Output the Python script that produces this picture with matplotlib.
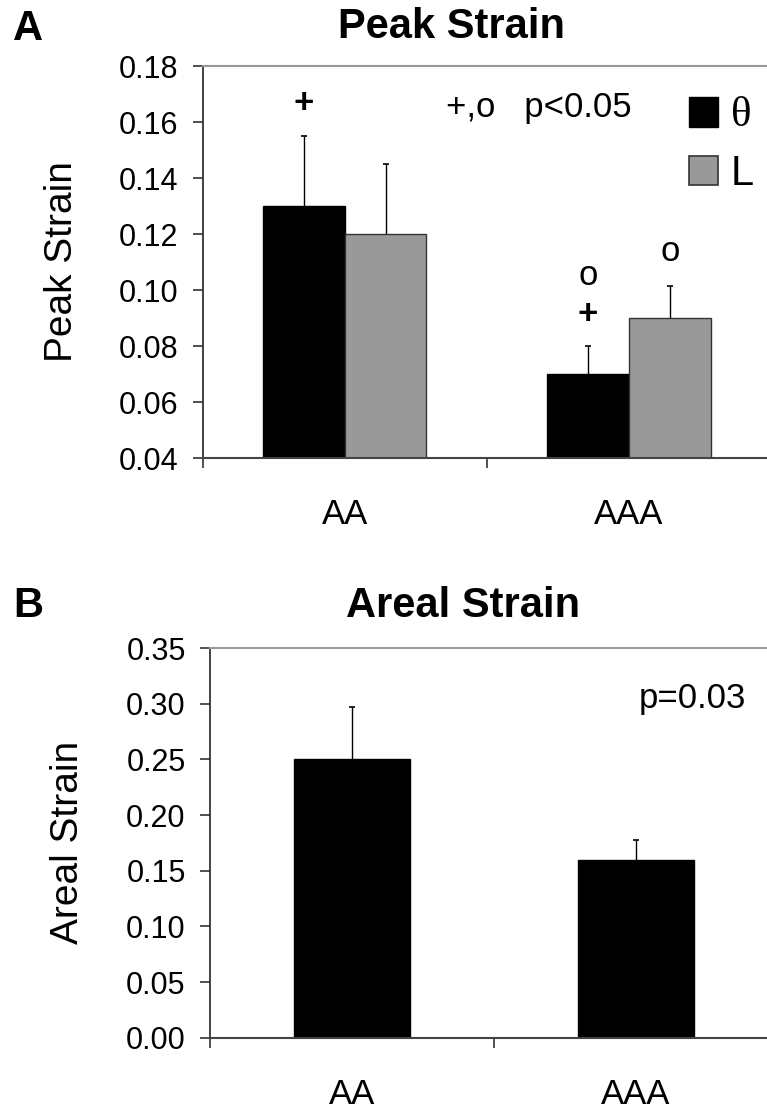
import matplotlib
matplotlib.use("Agg")
import matplotlib.pyplot as plt
from matplotlib.patches import Patch
import numpy as np

plt.rcParams['font.family'] = ['Liberation Sans', 'DejaVu Sans']

# ---- data ----
categories = ["AA", "AAA"]
peak_theta = [0.130, 0.070]
peak_theta_err_top = [0.155, 0.080]
peak_L = [0.120, 0.090]
peak_L_err_top = [0.145, 0.1015]
areal = [0.250, 0.160]
areal_err_top = [0.297, 0.1775]
peak_yticks = [0.04, 0.06, 0.08, 0.10, 0.12, 0.14, 0.16, 0.18]
areal_yticks = [0.00, 0.05, 0.10, 0.15, 0.20, 0.25, 0.30, 0.35]
series_labels = ["\u03b8", "L"]

W, H = 767, 1110
fig = plt.figure(figsize=(W / 100, H / 100), dpi=100)

def px_axes(left, top, right, bottom):
    return fig.add_axes([left / W, 1 - bottom / H, (right - left) / W, (bottom - top) / H])

def style(ax, yticks):
    ax.set_xlim(-0.5, 1.5)
    ax.set_ylim(yticks[0], yticks[-1])
    ax.set_yticks(yticks)
    ax.set_yticklabels([f"{t:.2f}" for t in yticks])
    ax.set_xticks([-0.5, 0.5])
    ax.set_xticklabels(["", ""])
    ax.set_xticks([0, 1], minor=True)
    ax.set_xticklabels(categories, minor=True)
    ax.tick_params(axis='x', which='major', direction='out', length=7.5, width=1.2, color='#333333')
    ax.tick_params(axis='x', which='minor', length=0, labelsize=25, pad=29)
    ax.tick_params(axis='y', direction='out', length=7, width=1.2, labelsize=22, pad=10.5, color='#333333')
    ax.spines['right'].set_visible(False)
    ax.spines['top'].set_color('#999999')
    ax.spines['top'].set_linewidth(1.5)
    ax.spines['left'].set_color('#222222')
    ax.spines['left'].set_linewidth(1.2)
    ax.spines['bottom'].set_color('#444444')
    ax.spines['bottom'].set_linewidth(1.5)

def upper_err(ax, xs, vals, tops):
    cont = ax.errorbar(xs, vals, yerr=[np.zeros(len(vals)), np.array(tops) - np.array(vals)],
                       fmt='none', ecolor='black', elinewidth=1, capsize=2.2, capthick=1.2, zorder=1)
    caps = cont[1]
    if len(caps) >= 2:
        caps[0].set_visible(False)

# ---------- Panel A ----------
ax1 = px_axes(202.5, 66, 771, 458)
style(ax1, peak_yticks)
x = np.arange(len(categories))
bw = 0.288
ax1.bar(x - bw / 2, peak_theta, width=bw, color='black', edgecolor='black', linewidth=1, zorder=2)
ax1.bar(x + bw / 2, peak_L, width=bw, color='#999999', edgecolor='#333333', linewidth=1, zorder=2)
upper_err(ax1, x - bw / 2, peak_theta, peak_theta_err_top)
upper_err(ax1, x + bw / 2, peak_L, peak_L_err_top)
ax1.set_ylabel("Peak Strain", fontsize=28, va='center')
ax1.yaxis.set_label_coords(-0.247, 0.5)

# annotations
ax1.text(0 - bw / 2, 0.1632, "+", ha='center', va='baseline', fontsize=25, fontweight='bold')
ax1.text(1 - bw / 2, 0.1018, "o", ha='center', va='baseline', fontsize=25)
ax1.text(1 - bw / 2, 0.0879, "+", ha='center', va='baseline', fontsize=25, fontweight='bold')
ax1.text(1 + bw / 2, 0.1104, "o", ha='center', va='baseline', fontsize=25)
ax1.text(0.356, 0.1618, "+,o   p<0.05", ha='left', va='baseline', fontsize=25)

handles = [Patch(facecolor='black', edgecolor='black'),
           Patch(facecolor='#999999', edgecolor='#333333', linewidth=1.2)]
leg = ax1.legend(handles, series_labels, loc='upper left',
                 bbox_to_anchor=(689 / W, 1 - 97 / H), bbox_transform=fig.transFigure,
                 frameon=False, fontsize=30, handlelength=0.7, handleheight=0.7,
                 handletextpad=0.3, labelspacing=0.45, borderpad=0, borderaxespad=0)
leg.get_texts()[0].set_fontfamily(['Liberation Serif', 'DejaVu Serif'])
leg.get_texts()[0].set_fontsize(31)

# ---------- Panel B ----------
ax2 = px_axes(210, 648, 778, 1037.7)
style(ax2, areal_yticks)
bw2 = 0.408
ax2.bar(x, areal, width=bw2, color='black', edgecolor='black', linewidth=1, zorder=2)
upper_err(ax2, x, areal, areal_err_top)
ax2.set_ylabel("Areal Strain", fontsize=28, va='center')
ax2.yaxis.set_label_coords(-0.25, 0.5)
ax2.text(1.009, 0.2961, "p=0.03", ha='left', va='baseline', fontsize=25)

# titles and panel letters
fig.text(452 / W, 1 - 38 / H, "Peak Strain", ha='center', va='baseline', fontsize=30, fontweight='bold')
fig.text(463 / W, 1 - 617 / H, "Areal Strain", ha='center', va='baseline', fontsize=30, fontweight='bold')
fig.text(13 / W, 1 - 40 / H, "A", ha='left', va='baseline', fontsize=30, fontweight='bold')
fig.text(13 / W, 1 - 617 / H, "B", ha='left', va='baseline', fontsize=30, fontweight='bold')

fig.savefig("out.png", dpi=100)
